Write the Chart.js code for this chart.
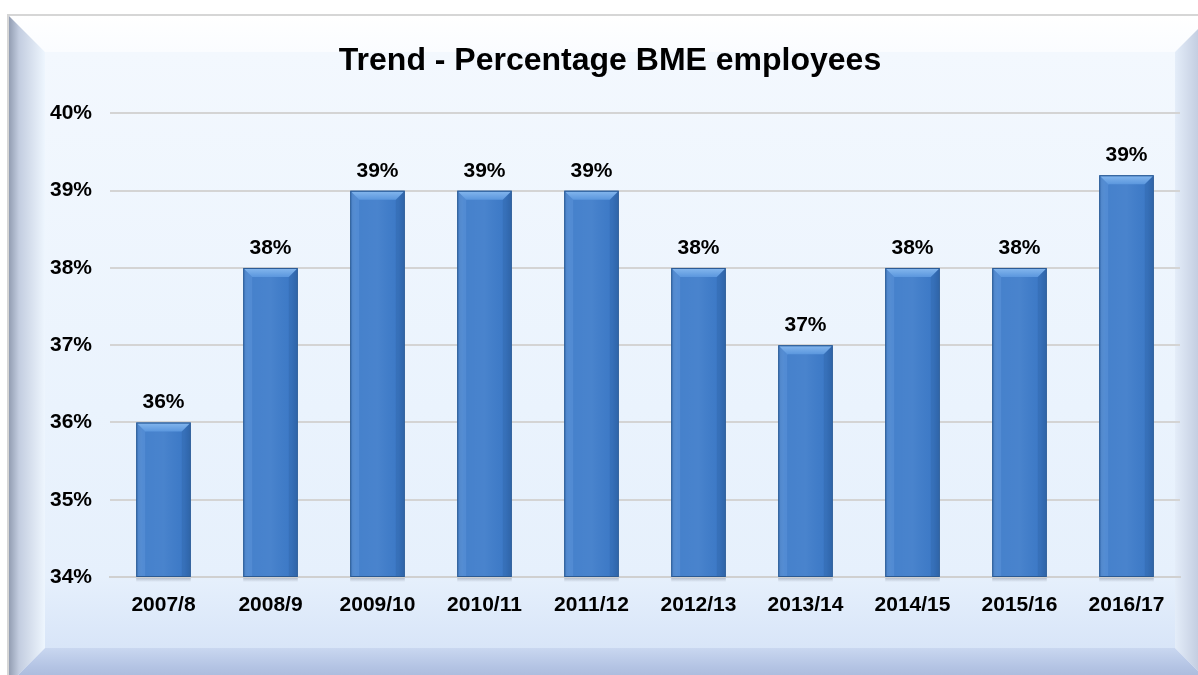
<!DOCTYPE html>
<html>
<head>
<meta charset="utf-8">
<script src="https://cdn.jsdelivr.net/npm/chart.js@4"></script>
<style>
html,body{margin:0;padding:0;background:#fff;}
#wrap{width:1198px;height:675px;position:relative;}
</style>
</head>
<body>
<div id="wrap"><canvas id="c" width="1198" height="675"></canvas></div>
<script>
const categories = ["2007/8","2008/9","2009/10","2010/11","2011/12","2012/13","2013/14","2014/15","2015/16","2016/17"];
const bmePercent = [36, 38, 39, 39, 39, 38, 37, 38, 38, 39.2];
const yTicks = [34, 35, 36, 37, 38, 39, 40];
const titleText = "Trend - Percentage BME employees";

const FONT = "'Liberation Sans', Arial, sans-serif";

const framePlugin = {
  id: 'frame',
  beforeDraw(chart) {
    const ctx = chart.ctx;
    const W = chart.width, H = chart.height;
    ctx.save();
    ctx.fillStyle = '#ffffff';
    ctx.fillRect(0, 0, W, H);
    const ox0 = 8, oy0 = 15, ox1 = 1212, oy1 = 685;
    const ix0 = 45, iy0 = 52, ix1 = 1175, iy1 = 648;
    let g = ctx.createLinearGradient(0, iy0, 0, iy1);
    g.addColorStop(0, '#F3F8FE');
    g.addColorStop(0.6, '#EAF3FD');
    g.addColorStop(0.88, '#E6F0FC');
    g.addColorStop(1, '#D8E5F8');
    ctx.fillStyle = g;
    ctx.fillRect(ix0, iy0, ix1 - ix0, iy1 - iy0);
    g = ctx.createLinearGradient(0, oy0, 0, iy0);
    g.addColorStop(0, '#FFFFFF');
    g.addColorStop(1, '#FAFCFF');
    ctx.fillStyle = g;
    ctx.beginPath(); ctx.moveTo(ox0, oy0); ctx.lineTo(ox1, oy0); ctx.lineTo(ix1, iy0); ctx.lineTo(ix0, iy0); ctx.closePath(); ctx.fill();
    g = ctx.createLinearGradient(ox0, 0, ix0, 0);
    g.addColorStop(0, '#8E99AE');
    g.addColorStop(0.3, '#C3CDE0');
    g.addColorStop(1, '#EEF6FE');
    ctx.fillStyle = g;
    ctx.beginPath(); ctx.moveTo(ox0, oy0); ctx.lineTo(ix0, iy0); ctx.lineTo(ix0, iy1); ctx.lineTo(ox0, oy1); ctx.closePath(); ctx.fill();
    g = ctx.createLinearGradient(ix1, 0, ox1, 0);
    g.addColorStop(0, '#E4EDF9');
    g.addColorStop(0.6, '#C5CFE2');
    g.addColorStop(1, '#A8B3C8');
    ctx.fillStyle = g;
    ctx.beginPath(); ctx.moveTo(ox1, oy0); ctx.lineTo(ox1, oy1); ctx.lineTo(ix1, iy1); ctx.lineTo(ix1, iy0); ctx.closePath(); ctx.fill();
    g = ctx.createLinearGradient(0, iy1, 0, oy1);
    g.addColorStop(0, '#C9D7F0');
    g.addColorStop(0.5, '#B4C4E4');
    g.addColorStop(1, '#A4B4D6');
    ctx.fillStyle = g;
    ctx.beginPath(); ctx.moveTo(ix0, iy1); ctx.lineTo(ix1, iy1); ctx.lineTo(ox1, oy1); ctx.lineTo(ox0, oy1); ctx.closePath(); ctx.fill();
    ctx.strokeStyle = '#D6D6D6';
    ctx.lineWidth = 2;
    ctx.beginPath(); ctx.moveTo(ox0, oy1); ctx.lineTo(ox0, oy0); ctx.lineTo(ox1, oy0); ctx.stroke();
    ctx.restore();
  }
};

const barStylePlugin = {
  id: 'barStyle',
  afterDatasetsDraw(chart) {
    const ctx = chart.ctx;
    const meta = chart.getDatasetMeta(0);
    const area = chart.chartArea;
    ctx.save();
    meta.data.forEach((bar, i) => {
      const p = bar.getProps(['x', 'y', 'base', 'width'], true);
      const l = p.x - p.width / 2, r = p.x + p.width / 2, t = p.y;
      const b = Math.min(p.base, area.bottom);
      let g = ctx.createLinearGradient(l, 0, r, 0);
      g.addColorStop(0, 'rgba(20,50,100,0.2)');
      g.addColorStop(0.12, 'rgba(255,255,255,0.04)');
      g.addColorStop(0.5, 'rgba(255,255,255,0.06)');
      g.addColorStop(0.88, 'rgba(20,50,100,0.04)');
      g.addColorStop(1, 'rgba(20,50,100,0.25)');
      ctx.fillStyle = g;
      ctx.fillRect(l + 1, t + 1, r - l - 2, b - t - 1);
      const bv = 9;
      g = ctx.createLinearGradient(0, t, 0, t + bv);
      g.addColorStop(0, '#86B8EE');
      g.addColorStop(1, '#5B97DE');
      ctx.fillStyle = g;
      ctx.beginPath();
      ctx.moveTo(l + 1, t + 1); ctx.lineTo(r - 1, t + 1); ctx.lineTo(r - bv, t + bv); ctx.lineTo(l + bv, t + bv); ctx.closePath();
      ctx.fill();
      ctx.fillStyle = 'rgba(120,170,230,0.25)';
      ctx.beginPath();
      ctx.moveTo(l + 1, t + 1); ctx.lineTo(l + bv, t + bv); ctx.lineTo(l + bv, b); ctx.lineTo(l + 1, b); ctx.closePath();
      ctx.fill();
      ctx.fillStyle = 'rgba(30,70,130,0.18)';
      ctx.beginPath();
      ctx.moveTo(r - 1, t + 1); ctx.lineTo(r - bv, t + bv); ctx.lineTo(r - bv, b); ctx.lineTo(r - 1, b); ctx.closePath();
      ctx.fill();
      ctx.strokeStyle = '#2C5A92';
      ctx.lineWidth = 1;
      ctx.strokeRect(l + 0.5, t + 0.5, r - l - 1, b - t - 1);
      g = ctx.createLinearGradient(0, b, 0, b + 5);
      g.addColorStop(0, 'rgba(60,70,90,0.35)');
      g.addColorStop(1, 'rgba(60,70,90,0)');
      ctx.fillStyle = g;
      ctx.fillRect(l, b + 1, r - l, 5);
      ctx.fillStyle = '#000';
      ctx.font = "bold 21px " + FONT;
      ctx.textAlign = 'center';
      ctx.textBaseline = 'alphabetic';
      ctx.fillText(Math.round(bmePercent[i]) + '%', p.x, t - 14);
    });
    ctx.restore();
  }
};

new Chart(document.getElementById('c'), {
  type: 'bar',
  data: {
    labels: categories,
    datasets: [{
      data: bmePercent,
      backgroundColor: '#3E7CCA',
      borderWidth: 0,
      barPercentage: 0.51,
      categoryPercentage: 1.0
    }]
  },
  options: {
    responsive: false,
    animation: false,
    devicePixelRatio: 1,
    layout: { padding: { left: 40, right: 18, top: 0, bottom: 0 } },
    plugins: {
      legend: { display: false },
      tooltip: { enabled: false },
      title: {
        display: true,
        text: titleText,
        color: '#000',
        font: { family: FONT, size: 32, weight: 'bold' },
        padding: { top: 42, bottom: 33 }
      }
    },
    scales: {
      x: {
        grid: { display: false, drawTicks: false },
        border: { display: true, color: '#D0D0D0', width: 2 },
        ticks: { color: '#000', font: { family: FONT, size: 21, weight: 'bold' }, padding: 16, maxRotation: 0 },
        afterFit(s) { s.height = 98; }
      },
      y: {
        min: 34, max: 40,
        afterBuildTicks(s) { s.ticks = yTicks.map(v => ({ value: v })); },
        grid: { color: '#D4D4D4', lineWidth: 2, drawTicks: false },
        border: { display: false },
        ticks: { color: '#000', font: { family: FONT, size: 21, weight: 'bold' }, padding: 18, callback: v => v + '%' },
        afterFit(s) { s.width = 70; }
      }
    }
  },
  plugins: [framePlugin, barStylePlugin]
});
</script>
</body>
</html>
